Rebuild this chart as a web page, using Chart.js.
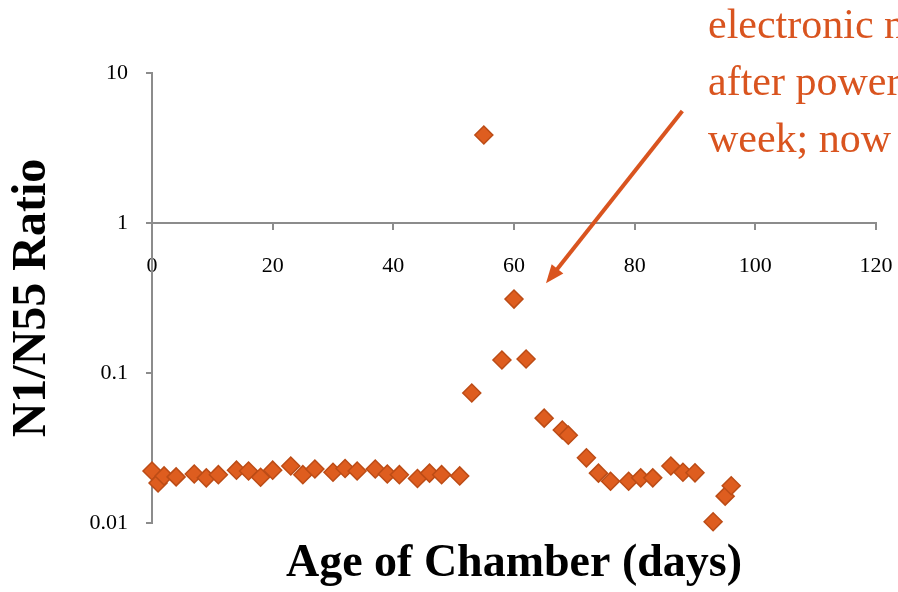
<!DOCTYPE html>
<html>
<head>
<meta charset="utf-8">
<script src="https://cdn.jsdelivr.net/npm/chart.js@4.4.1/dist/chart.umd.min.js"></script>
<style>
  html, body { margin: 0; padding: 0; background: #fff; }
</style>
</head>
<body>
<canvas id="ratioChart" width="898" height="592"></canvas>
<script>
// chamber age (days) and N1/N55 ratio
const ageDays = [0, 1, 2, 4, 7, 9, 11, 14, 16, 18, 20, 23, 25, 27, 30, 32, 34, 37, 39, 41, 44, 46, 48, 51,
                 53, 55, 58, 60, 62, 65, 68, 69, 72, 74, 76, 79, 81, 83, 86, 88, 90, 93, 95, 96];
const ratios = [0.0222, 0.0185, 0.0206, 0.0203, 0.0212, 0.0200, 0.0210, 0.0225, 0.0222, 0.0202, 0.0225, 0.0240,
                0.0210, 0.0229, 0.0218, 0.0231, 0.0222, 0.0229, 0.0212, 0.0210, 0.0198, 0.0215, 0.0210, 0.0206,
                0.0736, 3.86, 0.122, 0.311, 0.124, 0.050, 0.0417, 0.0385, 0.0272, 0.0215, 0.0190, 0.0190,
                0.0200, 0.0200, 0.0240, 0.0218, 0.0216, 0.0102, 0.0151, 0.0177];
const yTicks = [0.01, 0.1, 1, 10];
const yTickLabels = ['0.01', '0.1', '1', '10'];

// note in the top right corner (cut off by the edge of the slide)
const noteLines = ['electronic n', 'after power', 'week; now'];
const arrowFrom = { x: 87.9, y: 5.58 };
const arrowTo = { x: 65.3, y: 0.396 };

const markerFill = '#DE5D1F';
const markerBorder = '#BC4C16';
const noteColor = '#D9541F';
const axisGray = '#8c8c8c';

Chart.defaults.font.family = '"Liberation Serif", "Times New Roman", serif';
Chart.defaults.color = '#000';

const notePlugin = {
    id: 'note',
    afterDraw(chart) {
        const { ctx, scales: { x, y } } = chart;
        const x1 = x.getPixelForValue(arrowFrom.x), y1 = y.getPixelForValue(arrowFrom.y);
        const x2 = x.getPixelForValue(arrowTo.x), y2 = y.getPixelForValue(arrowTo.y);
        const ang = Math.atan2(y2 - y1, x2 - x1);
        const head = 20;

        ctx.save();
        ctx.strokeStyle = noteColor;
        ctx.fillStyle = noteColor;
        ctx.lineWidth = 4;
        ctx.beginPath();
        ctx.moveTo(x1, y1);
        ctx.lineTo(x2 - Math.cos(ang) * head * 0.8, y2 - Math.sin(ang) * head * 0.8);
        ctx.stroke();
        ctx.beginPath();
        ctx.moveTo(x2, y2);
        ctx.lineTo(x2 - head * Math.cos(ang - 0.38), y2 - head * Math.sin(ang - 0.38));
        ctx.lineTo(x2 - head * Math.cos(ang + 0.38), y2 - head * Math.sin(ang + 0.38));
        ctx.closePath();
        ctx.fill();

        ctx.font = '42px "Liberation Serif", serif';
        ctx.textBaseline = 'alphabetic';
        ctx.textAlign = 'left';
        noteLines.forEach((t, i) => ctx.fillText(t, 708, 38 + i * 57));
        ctx.restore();
    }
};

// keep tick labels from pushing the plot area in
const noEdgePadding = scale => {
    scale.paddingLeft = 0;
    scale.paddingRight = 0;
};

const data = {
    datasets: [{
        label: 'N1/N55',
        data: ageDays.map((d, i) => ({ x: d, y: ratios[i] })),
        xAxisID: 'x',
        yAxisID: 'y',
        pointStyle: 'rectRot',
        pointRadius: 9,
        pointHoverRadius: 9,
        borderWidth: 1.5,
        backgroundColor: markerFill,
        borderColor: markerBorder,
        showLine: false,
        clip: false
    }]
};

const config = {
    type: 'scatter',
    data: data,
    options: {
        responsive: false,
        animation: false,
        layout: { padding: { top: 73, right: 22, left: 0, bottom: 0 } },
        plugins: {
            legend: { display: false },
            tooltip: { enabled: false }
        },
        scales: {
            x: {
                type: 'linear',
                axis: 'x',
                position: { y: 1 },
                min: 0,
                max: 120,
                afterFit: noEdgePadding,
                ticks: {
                    stepSize: 20,
                    padding: 24,
                    maxRotation: 0,
                    font: { size: 22 }
                },
                grid: { drawOnChartArea: false, tickLength: 6, color: axisGray, lineWidth: 2 },
                border: { color: axisGray, width: 2 }
            },
            y: {
                type: 'logarithmic',
                position: 'left',
                min: 0.01,
                max: 10,
                afterBuildTicks: scale => {
                    scale.ticks = yTicks.map(v => ({ value: v }));
                },
                afterFit: scale => { scale.width = 152; },
                ticks: {
                    padding: 18,
                    font: { size: 22 },
                    callback: function(value) {
                        const i = yTicks.indexOf(value);
                        return i >= 0 ? yTickLabels[i] : '';
                    }
                },
                grid: { drawOnChartArea: false, tickLength: 6, color: axisGray, lineWidth: 2 },
                border: { color: axisGray, width: 2 },
                title: {
                    display: true,
                    text: 'N1/N55 Ratio',
                    font: { size: 48, weight: 'bold', lineHeight: 1 },
                    padding: { top: 9, bottom: 0 }
                }
            },
            // bottom axis that only carries the title, the real x axis crosses at y = 1
            xTitle: {
                type: 'linear',
                axis: 'x',
                position: 'bottom',
                ticks: { display: false },
                grid: { display: false },
                border: { display: false },
                afterFit: scale => {
                    scale.height = 69;
                    noEdgePadding(scale);
                },
                title: {
                    display: true,
                    text: 'Age of Chamber (days)',
                    font: { size: 46, weight: 'bold' },
                    padding: { top: 0, bottom: 0 }
                }
            }
        }
    },
    plugins: [notePlugin]
};

new Chart(document.getElementById('ratioChart').getContext('2d'), config);
</script>
</body>
</html>
